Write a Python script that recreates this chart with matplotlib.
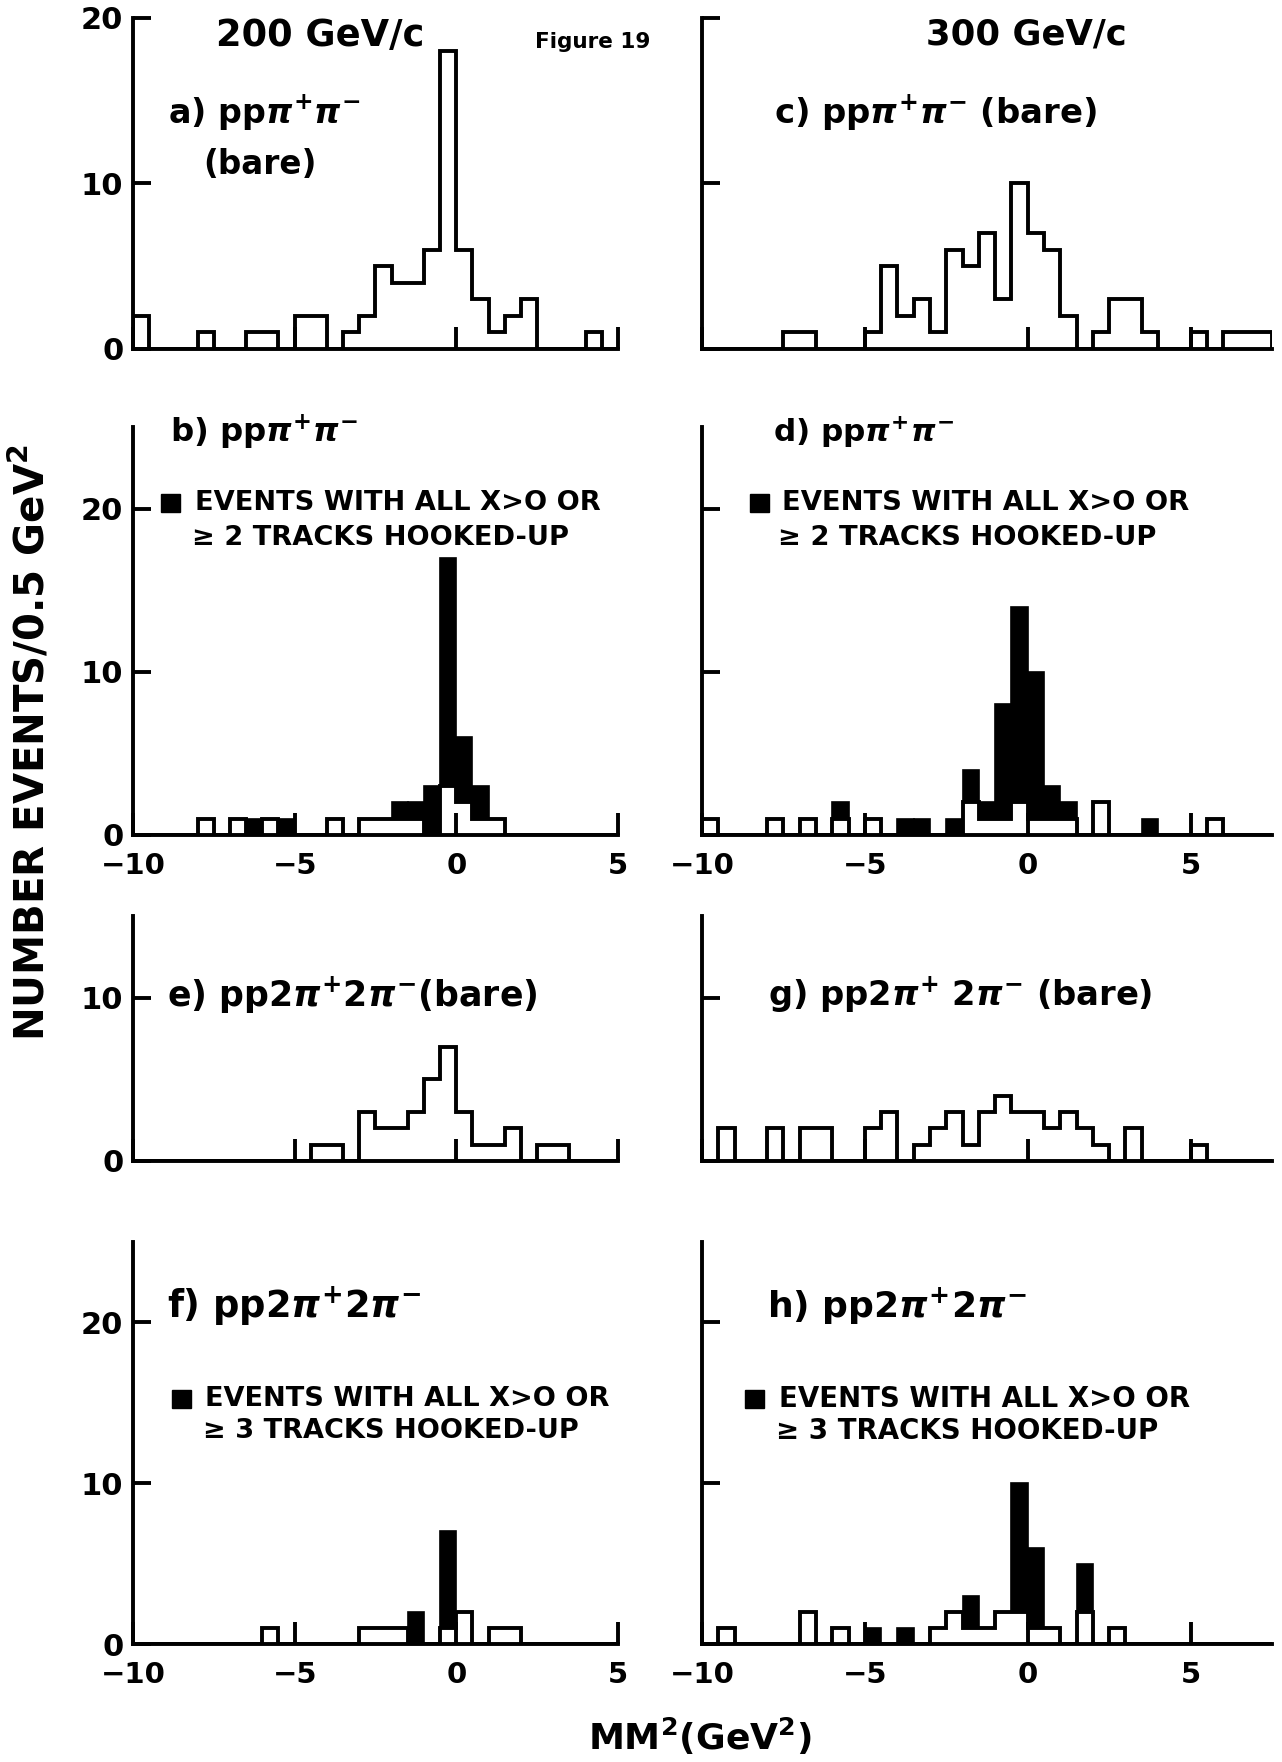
import numpy as np
import matplotlib
matplotlib.use('Agg')
import matplotlib.pyplot as plt

plt.rcParams['font.family'] = ['DejaVu Sans']
plt.rcParams['font.weight'] = 'bold'
plt.rcParams['mathtext.fontset'] = 'custom'
plt.rcParams['mathtext.rm'] = 'DejaVu Sans:bold'
plt.rcParams['mathtext.it'] = 'DejaVu Sans:italic:bold'
plt.rcParams['mathtext.bf'] = 'DejaVu Sans:bold'
plt.rcParams['mathtext.sf'] = 'DejaVu Sans:bold'

# ---------------- data (bin left edges, bin width 0.5 GeV^2) ----------------
# a) 200 GeV/c  pp pi+ pi-  (bare)
a_left = [-10, -8, -6.5, -6, -5, -4.5, -3.5, -3, -2.5, -2, -1.5, -1, -0.5, 0, 0.5, 1, 1.5, 2, 4]
a_cnt = [2, 1, 1, 1, 2, 2, 1, 2, 5, 4, 4, 6, 18, 6, 3, 1, 2, 3, 1]
# c) 300 GeV/c  pp pi+ pi-  (bare)
c_left = [-7.5, -7, -5, -4.5, -4, -3.5, -3, -2.5, -2, -1.5, -1, -0.5, 0, 0.5, 1, 2, 2.5, 3, 3.5, 5, 6, 6.5, 7]
c_cnt = [1, 1, 1, 5, 2, 3, 1, 6, 5, 7, 3, 10, 7, 6, 2, 1, 3, 3, 1, 1, 1, 1, 1]
# e) 200 GeV/c  pp 2pi+ 2pi-  (bare)
e_left = [-4.5, -4, -3, -2.5, -2, -1.5, -1, -0.5, 0, 0.5, 1, 1.5, 2.5, 3]
e_cnt = [1, 1, 3, 2, 2, 3, 5, 7, 3, 1, 1, 2, 1, 1]
# g) 300 GeV/c  pp 2pi+ 2pi-  (bare)
g_left = [-9.5, -8, -7, -6.5, -5, -4.5, -3.5, -3, -2.5, -2, -1.5, -1, -0.5, 0, 0.5, 1, 1.5, 2, 3, 5]
g_cnt = [2, 2, 2, 2, 2, 3, 1, 2, 3, 1, 3, 4, 3, 3, 2, 3, 2, 1, 2, 1]
# b) 200 GeV/c  pp pi+ pi-  (open = other events, black = selected events)
b_left = [-8, -7, -6.5, -6, -5.5, -4, -3, -2.5, -2, -1.5, -1, -0.5, 0, 0.5, 1]
b_open = [1, 1, 0, 1, 0, 1, 1, 1, 1, 1, 0, 3, 2, 1, 1]
b_black = [0, 0, 1, 0, 1, 0, 0, 0, 1, 1, 3, 14, 4, 2, 0]
# d) 300 GeV/c  pp pi+ pi-
d_left = [-10, -8, -7, -6, -5, -4, -3.5, -2.5, -2, -1.5, -1, -0.5, 0, 0.5, 1, 2, 3.5, 5.5]
d_open = [1, 1, 1, 1, 1, 0, 0, 0, 2, 1, 1, 2, 1, 1, 1, 2, 0, 1]
d_black = [0, 0, 0, 1, 0, 1, 1, 1, 2, 1, 7, 12, 9, 2, 1, 0, 1, 0]
# f) 200 GeV/c  pp 2pi+ 2pi-
f_left = [-6, -3, -2.5, -2, -1.5, -0.5, 0, 1, 1.5]
f_open = [1, 1, 1, 1, 0, 1, 2, 1, 1]
f_black = [0, 0, 0, 0, 2, 6, 0, 0, 0]
# h) 300 GeV/c  pp 2pi+ 2pi-
h_left = [-9.5, -7, -6, -5, -4, -3, -2.5, -2, -1.5, -1, -0.5, 0, 0.5, 1.5, 2.5]
h_open = [1, 2, 1, 0, 0, 1, 2, 1, 1, 2, 2, 1, 1, 2, 1]
h_black = [0, 0, 0, 1, 1, 0, 0, 2, 0, 0, 8, 5, 0, 3, 0]

x_ticks = [-10, -5, 0, 5]
x_ticklabels = ['\u221210', '\u22125', '0', '5']

# ---------------- layout ----------------
W, H = 1282, 1762
fig = plt.figure(figsize=(W / 100, H / 100), dpi=100)
LW = 2.8
BIN = 0.5


def box(x0, x1, ybase, ytop):
    return [x0 / W, 1 - ybase / H, (x1 - x0) / W, (ybase - ytop) / H]


def full_grid(lefts, vals, lo, hi):
    edges = np.arange(lo, hi + BIN / 2, BIN)
    out = np.zeros(len(edges) - 1)
    for l, v in zip(lefts, vals):
        i = int(round((l - lo) / BIN))
        out[i] += v
    return edges, out


def make_ax(rect, xlim, ylim, yticks, xlab, ylab):
    ax = fig.add_axes(rect)
    ax.set_xlim(*xlim)
    ax.set_ylim(*ylim)
    for s in ['top', 'right']:
        ax.spines[s].set_visible(False)
    for s in ['left', 'bottom']:
        ax.spines[s].set_linewidth(LW)
    ax.set_xticks(x_ticks)
    ax.set_yticks(yticks)
    ax.tick_params(axis='x', direction='in', length=16, width=LW, labelsize=21,
                   pad=12, labelbottom=xlab)
    ax.tick_params(axis='y', direction='in', length=13, width=LW, labelsize=22,
                   pad=7, labelleft=ylab)
    if xlab:
        ax.set_xticklabels(x_ticklabels, fontweight='bold')
    if ylab:
        ax.set_yticklabels([str(t) for t in yticks], fontweight='bold')
    ax.patch.set_alpha(0)
    return ax


def bare(ax, lefts, cnt, lo, hi):
    edges, vals = full_grid(lefts, cnt, lo, hi)
    ax.stairs(vals, edges, baseline=0, color='black', lw=LW, zorder=3)


def split(ax, lefts, opn, blk, lo, hi):
    edges, vals = full_grid(lefts, opn, lo, hi)
    ax.bar(lefts, blk, bottom=opn, width=BIN, align='edge', color='black',
           edgecolor='black', lw=1.2, zorder=2)
    ax.stairs(vals, edges, baseline=0, color='black', lw=LW, zorder=3)


LX0, LX1 = 133, 618
RX0, RX1 = 702, 1272

ax_a = make_ax(box(LX0, LX1, 349, 18), (-10, 5), (0, 20), [0, 10, 20], False, True)
bare(ax_a, a_left, a_cnt, -10, 5)
ax_c = make_ax(box(RX0, RX1, 349, 18), (-10, 7.5), (0, 20), [0, 10, 20], False, False)
bare(ax_c, c_left, c_cnt, -10, 7.5)

ax_b = make_ax(box(LX0, LX1, 835, 427), (-10, 5), (0, 25), [0, 10, 20], True, True)
split(ax_b, b_left, b_open, b_black, -10, 5)
ax_d = make_ax(box(RX0, RX1, 835, 427), (-10, 7.5), (0, 25), [0, 10, 20], True, False)
split(ax_d, d_left, d_open, d_black, -10, 7.5)

ax_e = make_ax(box(LX0, LX1, 1161, 916), (-10, 5), (0, 15), [0, 10], False, True)
bare(ax_e, e_left, e_cnt, -10, 5)
ax_g = make_ax(box(RX0, RX1, 1161, 916), (-10, 7.5), (0, 15), [0, 10], False, False)
bare(ax_g, g_left, g_cnt, -10, 7.5)

ax_f = make_ax(box(LX0, LX1, 1644, 1242), (-10, 5), (0, 25), [0, 10, 20], True, True)
split(ax_f, f_left, f_open, f_black, -10, 5)
ax_h = make_ax(box(RX0, RX1, 1644, 1242), (-10, 7.5), (0, 25), [0, 10, 20], True, False)
split(ax_h, h_left, h_open, h_black, -10, 7.5)


def T(x, y, s, size, ha='left', **kw):
    fig.text(x / W, 1 - y / H, s, fontsize=size, ha=ha, va='center',
             fontweight='bold', **kw)


# titles
T(320, 35, '200 GeV/c', 26.5, ha='center')
T(1026, 35, '300 GeV/c', 25.5, ha='center')
T(535, 42, 'Figure 19', 15.5)

# panel labels
T(168, 113, r'a) pp$\pi^{+}\pi^{-}$', 24)
T(203, 165, '(bare)', 23.5)
T(774, 113, r'c) pp$\pi^{+}\pi^{-}$ (bare)', 24.4)
T(170, 432, r'b) pp$\pi^{+}\pi^{-}$', 23.3)
T(773, 432, r'd) pp$\pi^{+}\pi^{-}$', 22.4)
T(167, 995, r'e) pp2$\pi^{+}$2$\pi^{-}$(bare)', 25)
T(768, 995, r'g) pp2$\pi^{+}$ 2$\pi^{-}$ (bare)', 24.3)
T(167, 1306, r'f) pp2$\pi^{+}$2$\pi^{-}$', 26.5)
T(767, 1306, r'h) pp2$\pi^{+}$2$\pi^{-}$', 26)


def legend(xsq, y1, y2, xt1, xt2, ntr, size):
    fig.patches.append(plt.Rectangle((xsq / W, 1 - (y1 + 9) / H), 19 / W, 18 / H,
                                     transform=fig.transFigure, color='black'))
    T(xt1, y1, 'EVENTS WITH ALL X>O OR', size)
    T(xt2, y2, '\u2265 %d TRACKS HOOKED-UP' % ntr, size)


legend(161, 503, 538, 195, 192, 2, 19.6)
legend(750, 503, 538, 782, 778, 2, 19.7)
legend(172, 1399, 1431, 205, 203, 3, 19.5)
legend(745, 1399, 1431, 779, 776, 3, 19.9)

# axis titles
T(31, 742, r'NUMBER EVENTS/0.5 GeV$^{2}$', 29, ha='center', rotation=90)
T(700, 1736, r'MM$^{2}$(GeV$^{2}$)', 26, ha='center')

fig.savefig('out.png', dpi=100)
